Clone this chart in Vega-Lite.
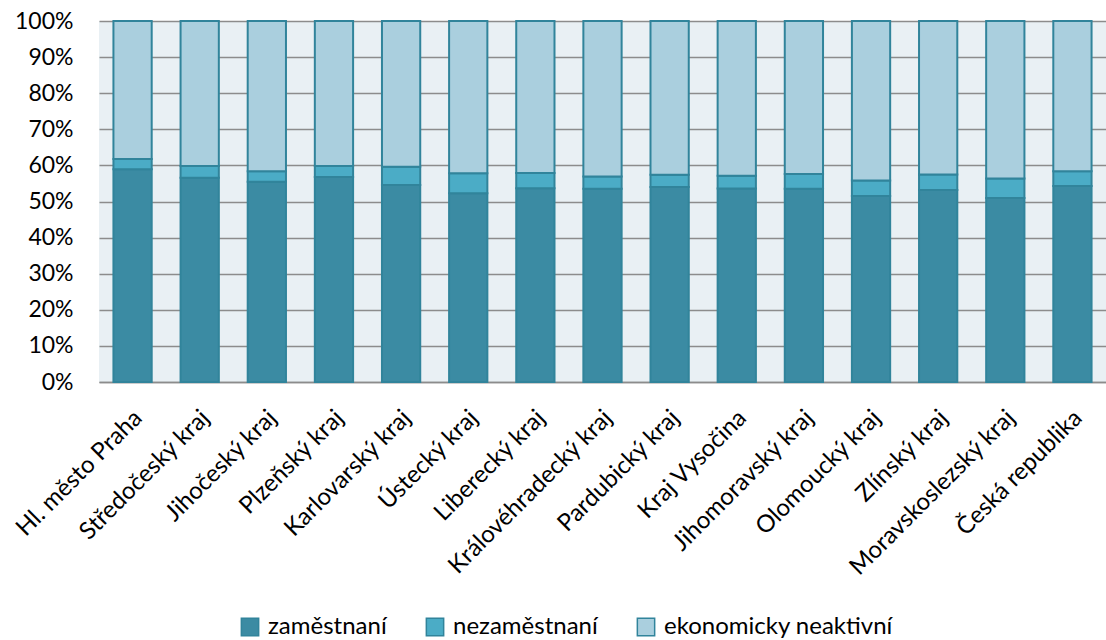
{
  "$schema": "https://vega.github.io/schema/vega-lite/v6.json",
  "autosize": {"type": "none"},
  "width": 1007,
  "height": 361,
  "padding": {"left": 99, "top": 21, "right": 0, "bottom": 258},
  "background": "white",
  "config": {
    "view": {"fill": "#e9f0f4", "stroke": null},
    "font": "Lato"
  },
  "data": {
    "values": [
      {"kraj": "Hl. město Praha", "stav": "zaměstnaní", "poradi": 1, "hodnota": 58.9},
      {"kraj": "Hl. město Praha", "stav": "nezaměstnaní", "poradi": 2, "hodnota": 2.9},
      {"kraj": "Hl. město Praha", "stav": "ekonomicky neaktivní", "poradi": 3, "hodnota": 38.2},
      {"kraj": "Středočeský kraj", "stav": "zaměstnaní", "poradi": 1, "hodnota": 56.6},
      {"kraj": "Středočeský kraj", "stav": "nezaměstnaní", "poradi": 2, "hodnota": 3.2},
      {"kraj": "Středočeský kraj", "stav": "ekonomicky neaktivní", "poradi": 3, "hodnota": 40.2},
      {"kraj": "Jihočeský kraj", "stav": "zaměstnaní", "poradi": 1, "hodnota": 55.5},
      {"kraj": "Jihočeský kraj", "stav": "nezaměstnaní", "poradi": 2, "hodnota": 2.9},
      {"kraj": "Jihočeský kraj", "stav": "ekonomicky neaktivní", "poradi": 3, "hodnota": 41.6},
      {"kraj": "Plzeňský kraj", "stav": "zaměstnaní", "poradi": 1, "hodnota": 56.8},
      {"kraj": "Plzeňský kraj", "stav": "nezaměstnaní", "poradi": 2, "hodnota": 3.0},
      {"kraj": "Plzeňský kraj", "stav": "ekonomicky neaktivní", "poradi": 3, "hodnota": 40.2},
      {"kraj": "Karlovarský kraj", "stav": "zaměstnaní", "poradi": 1, "hodnota": 54.6},
      {"kraj": "Karlovarský kraj", "stav": "nezaměstnaní", "poradi": 2, "hodnota": 5.0},
      {"kraj": "Karlovarský kraj", "stav": "ekonomicky neaktivní", "poradi": 3, "hodnota": 40.4},
      {"kraj": "Ústecký kraj", "stav": "zaměstnaní", "poradi": 1, "hodnota": 52.3},
      {"kraj": "Ústecký kraj", "stav": "nezaměstnaní", "poradi": 2, "hodnota": 5.5},
      {"kraj": "Ústecký kraj", "stav": "ekonomicky neaktivní", "poradi": 3, "hodnota": 42.2},
      {"kraj": "Liberecký kraj", "stav": "zaměstnaní", "poradi": 1, "hodnota": 53.7},
      {"kraj": "Liberecký kraj", "stav": "nezaměstnaní", "poradi": 2, "hodnota": 4.2},
      {"kraj": "Liberecký kraj", "stav": "ekonomicky neaktivní", "poradi": 3, "hodnota": 42.1},
      {"kraj": "Královéhradecký kraj", "stav": "zaměstnaní", "poradi": 1, "hodnota": 53.5},
      {"kraj": "Královéhradecký kraj", "stav": "nezaměstnaní", "poradi": 2, "hodnota": 3.4},
      {"kraj": "Královéhradecký kraj", "stav": "ekonomicky neaktivní", "poradi": 3, "hodnota": 43.1},
      {"kraj": "Pardubický kraj", "stav": "zaměstnaní", "poradi": 1, "hodnota": 54.0},
      {"kraj": "Pardubický kraj", "stav": "nezaměstnaní", "poradi": 2, "hodnota": 3.4},
      {"kraj": "Pardubický kraj", "stav": "ekonomicky neaktivní", "poradi": 3, "hodnota": 42.6},
      {"kraj": "Kraj Vysočina", "stav": "zaměstnaní", "poradi": 1, "hodnota": 53.6},
      {"kraj": "Kraj Vysočina", "stav": "nezaměstnaní", "poradi": 2, "hodnota": 3.5},
      {"kraj": "Kraj Vysočina", "stav": "ekonomicky neaktivní", "poradi": 3, "hodnota": 42.9},
      {"kraj": "Jihomoravský kraj", "stav": "zaměstnaní", "poradi": 1, "hodnota": 53.5},
      {"kraj": "Jihomoravský kraj", "stav": "nezaměstnaní", "poradi": 2, "hodnota": 4.1},
      {"kraj": "Jihomoravský kraj", "stav": "ekonomicky neaktivní", "poradi": 3, "hodnota": 42.4},
      {"kraj": "Olomoucký kraj", "stav": "zaměstnaní", "poradi": 1, "hodnota": 51.5},
      {"kraj": "Olomoucký kraj", "stav": "nezaměstnaní", "poradi": 2, "hodnota": 4.3},
      {"kraj": "Olomoucký kraj", "stav": "ekonomicky neaktivní", "poradi": 3, "hodnota": 44.2},
      {"kraj": "Zlínský kraj", "stav": "zaměstnaní", "poradi": 1, "hodnota": 53.2},
      {"kraj": "Zlínský kraj", "stav": "nezaměstnaní", "poradi": 2, "hodnota": 4.3},
      {"kraj": "Zlínský kraj", "stav": "ekonomicky neaktivní", "poradi": 3, "hodnota": 42.5},
      {"kraj": "Moravskoslezský kraj", "stav": "zaměstnaní", "poradi": 1, "hodnota": 51.0},
      {"kraj": "Moravskoslezský kraj", "stav": "nezaměstnaní", "poradi": 2, "hodnota": 5.4},
      {"kraj": "Moravskoslezský kraj", "stav": "ekonomicky neaktivní", "poradi": 3, "hodnota": 43.6},
      {"kraj": "Česká republika", "stav": "zaměstnaní", "poradi": 1, "hodnota": 54.3},
      {"kraj": "Česká republika", "stav": "nezaměstnaní", "poradi": 2, "hodnota": 4.1},
      {"kraj": "Česká republika", "stav": "ekonomicky neaktivní", "poradi": 3, "hodnota": 41.6}
    ]
  },
  "mark": {"type": "bar", "stroke": "#31849b", "strokeWidth": 2},
  "encoding": {
    "x": {
      "field": "kraj",
      "type": "nominal",
      "sort": null,
      "scale": {"paddingInner": 0.43, "paddingOuter": 0.215},
      "axis": {
        "title": null,
        "labelAngle": -45,
        "labelAlign": "right",
        "labelBaseline": "middle",
        "labelFontSize": 24,
        "labelColor": "#000000",
        "labelFont": "Lato",
        "labelPadding": 32,
        "labelOffset": 6,
        "labelLimit": 0,
        "ticks": false,
        "domain": true,
        "domainColor": "#8c8c8c",
        "domainWidth": 1.5,
        "labelOverlap": false
      }
    },
    "y": {
      "field": "hodnota",
      "type": "quantitative",
      "stack": "normalize",
      "scale": {"domain": [0, 1], "nice": false},
      "axis": {
        "title": null,
        "format": ".0%",
        "values": [0, 0.1, 0.2, 0.3, 0.4, 0.5, 0.6, 0.7, 0.8, 0.9, 1],
        "labelFontSize": 23,
        "labelColor": "#000000",
        "labelFont": "Lato",
        "labelPadding": 26,
        "ticks": false,
        "domain": false,
        "grid": true,
        "gridColor": "#8c8c8c",
        "gridWidth": 1.5
      }
    },
    "color": {
      "field": "stav",
      "type": "nominal",
      "sort": ["zaměstnaní", "nezaměstnaní", "ekonomicky neaktivní"],
      "scale": {
        "domain": ["zaměstnaní", "nezaměstnaní", "ekonomicky neaktivní"],
        "range": ["#3b8ba3", "#4bacc6", "#aacfde"]
      },
      "legend": {
        "title": null,
        "orient": "none",
        "direction": "horizontal",
        "legendX": 139,
        "legendY": 594,
        "symbolType": "square",
        "symbolSize": 300,
        "symbolStrokeColor": "#31849b",
        "symbolStrokeWidth": 1.5,
        "labelFontSize": 24,
        "labelFont": "Lato",
        "labelColor": "#000000",
        "labelLimit": 0,
        "columnPadding": 36,
        "labelOffset": 6
      }
    },
    "order": {"field": "poradi", "type": "quantitative"}
  }
}
